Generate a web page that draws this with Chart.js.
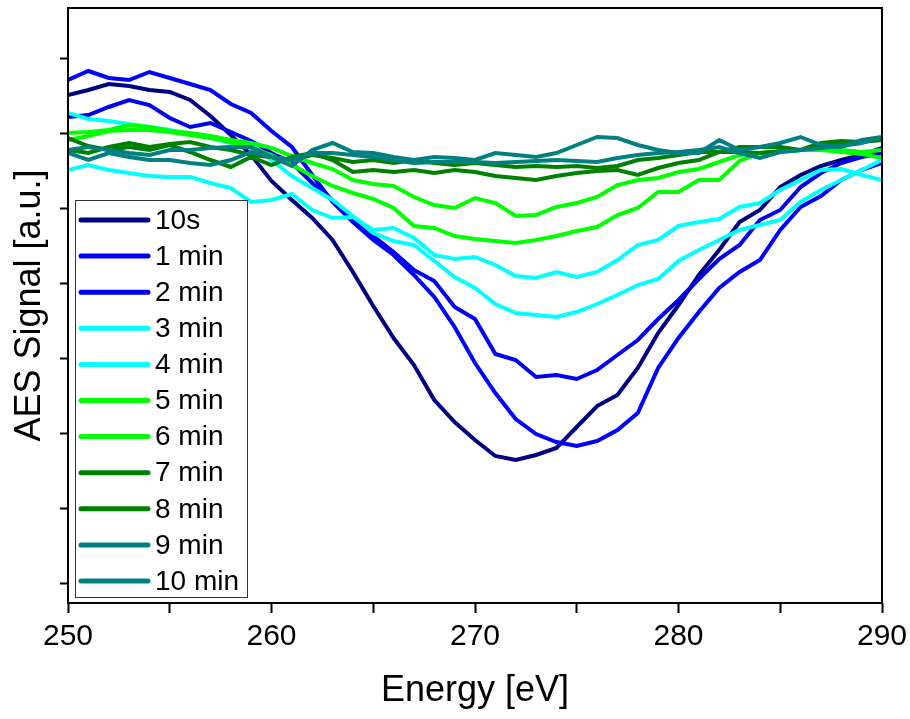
<!DOCTYPE html>
<html>
<head>
<meta charset="utf-8">
<script src="https://cdn.jsdelivr.net/npm/chart.js@4.4.1/dist/chart.umd.min.js"></script>
<style>
  body { margin: 0; background: #fff; }
  #chart { display: block; }
</style>
</head>
<body>
<canvas id="chart" width="910" height="719"></canvas>
<script>
// energies in eV
const energy = [250, 251, 252, 253, 254, 255, 256, 257, 258, 259, 260,
                261, 262, 263, 264, 265, 266, 267, 268, 269, 270,
                271, 272, 273, 274, 275, 276, 277, 278, 279, 280,
                281, 282, 283, 284, 285, 286, 287, 288, 289, 290];

// AES signal, arbitrary units, one array per exposure time
const s10s = [488, 493, 499, 497, 493, 491, 483, 467, 448, 428, 402, 383, 365, 343, 311, 277, 245, 218, 183, 161, 143,
              127, 123, 128, 135, 156, 177, 188, 215, 250, 278, 308, 333, 361, 373, 396, 408, 417, 423, 428, 435];
const s1min = [503, 512, 505, 503, 511, 505, 499, 493, 479, 470, 452, 436, 408, 381, 361, 343, 328, 308, 286, 256, 220,
               190, 164, 149, 141, 137, 142, 153, 170, 215, 245, 271, 295, 311, 323, 353, 376, 387, 403, 413, 420];
const s2min = [466, 468, 476, 483, 478, 465, 456, 460, 451, 442, 430, 420, 400, 383, 365, 347, 331, 313, 302, 276, 264,
               229, 223, 206, 208, 204, 213, 228, 243, 264, 283, 304, 324, 338, 363, 373, 396, 410, 420, 426, 430];
const s3min = [470, 464, 462, 459, 456, 453, 449, 445, 440, 439, 423, 407, 395, 383, 367, 350, 342, 338, 322, 306, 295,
               279, 270, 268, 266, 271, 279, 288, 298, 304, 322, 333, 343, 353, 358, 363, 381, 393, 403, 413, 423];
const s4min = [413, 418, 413, 410, 407, 406, 406, 400, 395, 381, 383, 389, 373, 365, 366, 353, 355, 345, 328, 324, 326,
               318, 307, 305, 311, 306, 311, 323, 338, 343, 357, 361, 364, 376, 380, 393, 403, 413, 414, 408, 403];
const s5min = [443, 447, 452, 453, 453, 451, 448, 445, 441, 435, 428, 418, 407, 397, 390, 384, 375, 357, 355, 347, 344,
               342, 340, 343, 347, 352, 356, 368, 375, 391, 391, 403, 403, 422, 430, 431, 433, 433, 431, 429, 425];
const s6min = [450, 451, 453, 458, 456, 452, 450, 447, 443, 440, 435, 427, 420, 414, 403, 399, 397, 386, 378, 375, 385,
               380, 367, 368, 376, 380, 386, 398, 403, 405, 411, 414, 421, 428, 430, 431, 433, 433, 433, 431, 433];
const s7min = [445, 437, 433, 436, 433, 438, 431, 423, 416, 426, 418, 426, 430, 423, 411, 413, 411, 413, 410, 413, 411,
               407, 405, 403, 407, 410, 412, 413, 408, 415, 420, 423, 431, 436, 436, 436, 433, 440, 442, 441, 445];
const s8min = [433, 430, 436, 440, 436, 439, 441, 436, 433, 428, 426, 423, 428, 425, 421, 423, 420, 423, 420, 418, 420,
               418, 416, 417, 416, 417, 415, 417, 423, 425, 428, 431, 431, 431, 430, 432, 433, 437, 439, 441, 443];
const s9min = [433, 436, 433, 430, 428, 433, 433, 435, 436, 436, 426, 417, 433, 440, 431, 430, 426, 423, 426, 425, 423,
               430, 428, 426, 430, 438, 446, 445, 438, 433, 430, 430, 443, 433, 436, 440, 446, 438, 436, 443, 446];
const s10min = [430, 423, 430, 426, 423, 423, 420, 418, 423, 431, 426, 423, 430, 430, 428, 426, 423, 420, 421, 421, 421,
                420, 421, 422, 423, 422, 421, 425, 428, 430, 431, 433, 436, 430, 425, 431, 433, 435, 437, 440, 446];

const seriesLabels = ['10s', '1 min', '2 min', '3 min', '4 min', '5 min', '6 min', '7 min', '8 min', '9 min', '10 min'];
const seriesValues = [s10s, s1min, s2min, s3min, s4min, s5min, s6min, s7min, s8min, s9min, s10min];
const seriesColors = ['#000080', '#0000ff', '#0000ee', '#00ffff', '#00ffff', '#00ff00', '#00ff00',
                      '#008000', '#008000', '#008080', '#008080'];

const xTicks = [250, 255, 260, 265, 270, 275, 280, 285, 290];
const yTicks = [0, 75, 150, 225, 300, 375, 450, 525];

const datasets = seriesLabels.map((label, i) => ({
    label: label,
    data: energy.map((e, j) => ({ x: e, y: seriesValues[i][j] })),
    borderColor: seriesColors[i],
    backgroundColor: seriesColors[i],
    borderWidth: 4,
    pointRadius: 0,
    tension: 0,
    order: seriesLabels.length - i
}));

// black frame round the plot area
const framePlugin = {
    id: 'frame',
    afterDatasetsDraw(chart) {
        const a = chart.chartArea;
        const ctx = chart.ctx;
        ctx.save();
        ctx.strokeStyle = '#000';
        ctx.lineWidth = 2;
        ctx.strokeRect(a.left, a.top, a.right - a.left, a.bottom - a.top);
        ctx.restore();
    }
};

// boxed legend in the lower left corner of the plot
const boxLegend = {
    id: 'boxLegend',
    afterDatasetsDraw(chart) {
        const ctx = chart.ctx;
        const a = chart.chartArea;
        const x0 = a.left + 7, y0 = 200, w = 172, h = 397;
        ctx.save();
        ctx.fillStyle = '#fff';
        ctx.fillRect(x0, y0, w, h);
        ctx.strokeStyle = '#333';
        ctx.lineWidth = 1;
        ctx.strokeRect(x0 + 0.5, y0 + 0.5, w, h);
        ctx.font = '28px "Liberation Sans", Arial, sans-serif';
        ctx.textBaseline = 'middle';
        chart.data.datasets.forEach((ds, i) => {
            const y = y0 + 20 + i * 36.1;
            ctx.strokeStyle = ds.borderColor;
            ctx.lineWidth = 5;
            ctx.lineCap = 'round';
            ctx.beginPath();
            ctx.moveTo(x0 + 6, y);
            ctx.lineTo(x0 + 73, y);
            ctx.stroke();
            ctx.fillStyle = '#000';
            ctx.fillText(ds.label, x0 + 80, y + 1);
        });
        ctx.restore();
    }
};

new Chart(document.getElementById('chart').getContext('2d'), {
    type: 'line',
    data: { datasets: datasets },
    options: {
        responsive: false,
        animation: false,
        layout: { padding: { top: 8, right: 28, left: 0, bottom: 0 } },
        plugins: {
            legend: { display: false },
            tooltip: { enabled: false }
        },
        scales: {
            x: {
                type: 'linear',
                min: 250,
                max: 290,
                afterBuildTicks: s => { s.ticks = xTicks.map(v => ({ value: v })); },
                afterFit: s => { s.height = 116; s.paddingLeft = 0; s.paddingRight = 0; },
                border: { display: false },
                grid: { drawOnChartArea: false, drawTicks: true, tickLength: 10, tickColor: '#000', tickWidth: 2 },
                ticks: {
                    color: '#000',
                    padding: 6,
                    font: { family: '"Liberation Sans", Arial, sans-serif', size: 30 },
                    callback: v => (v % 10 === 0 ? v : '')
                },
                title: {
                    display: true,
                    text: 'Energy [eV]',
                    color: '#000',
                    font: { family: '"Liberation Sans", Arial, sans-serif', size: 36 },
                    padding: { top: 0, bottom: 6 }
                }
            },
            y: {
                type: 'linear',
                min: -20,
                max: 575,
                afterBuildTicks: s => { s.ticks = yTicks.map(v => ({ value: v })); },
                afterFit: s => { s.width = 68; },
                border: { display: false },
                grid: { drawOnChartArea: false, drawTicks: true, tickLength: 8, tickColor: '#000', tickWidth: 2 },
                ticks: { display: false },
                title: {
                    display: true,
                    text: 'AES Signal [a.u.]',
                    color: '#000',
                    font: { family: '"Liberation Sans", Arial, sans-serif', size: 36 },
                    padding: { top: 8, bottom: 0 }
                }
            }
        }
    },
    plugins: [framePlugin, boxLegend]
});
</script>
</body>
</html>
